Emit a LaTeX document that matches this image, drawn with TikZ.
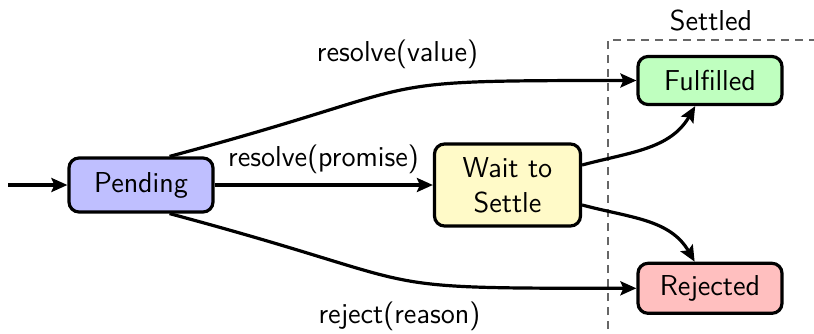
\documentclass[tikz,border=0pt]{standalone}
\usepackage{fontspec}
\usetikzlibrary{arrows.meta}
\definecolor{pendfill}{RGB}{191,191,255}
\definecolor{waitfill}{RGB}{255,250,200}
\definecolor{fulfill}{RGB}{191,255,191}
\definecolor{rejfill}{RGB}{255,191,191}
\tikzset{
  state/.style={draw=black, line width=1.6pt, rounded corners=5pt, minimum width=72pt,
    align=center, inner sep=3pt, font=\sffamily\fontsize{14.4pt}{17.5pt}\selectfont},
  lbl/.style={anchor=base, inner sep=0pt, font=\sffamily\fontsize{14.4pt}{17.5pt}\selectfont},
  conn/.style={line width=1.6pt, -{Stealth[length=8pt,width=7pt,inset=1.5pt]}},
  settledbox/.style={draw=black!60, line width=0.75pt, dash pattern=on 4pt off 3pt}
}
\begin{document}
\begin{tikzpicture}[x=0.5pt,y=0.5pt]
\useasboundingbox (0,0) rectangle (814,333);
\clip (0,0) rectangle (814,333);
% settled region
\draw[settledbox] (608,-10) |- (830,293);
\node[lbl] (settled) at (711,303) {Settled};
% states
\node[state, fill=pendfill, minimum height=27pt] (pending) at (141,148) {Pending};
\node[state, fill=waitfill, minimum width=73pt, minimum height=41pt] (wait) at (507.5,148) {Wait to\\Settle};
\node[state, fill=fulfill, minimum height=24pt] (fulfilled) at (710,252.5) {Fulfilled};
\node[state, fill=rejfill, minimum height=25pt] (rejected) at (710,44.7) {Rejected};
\coordinate (entry) at (8,148);
% connectors
\draw[conn] (entry) -- (pending.west);
\draw[conn] (pending.east) -- (wait.west);
\draw[conn] (pending.45) to[out=15,in=180,looseness=1.55] (fulfilled.west);
\draw[conn] (pending.-45) to[out=-15,in=180,looseness=1.55] (rejected.west);
\draw[conn] (wait) to[out=15,in=-120] (fulfilled);
\draw[conn] (wait) to[out=-15,in=120] (rejected);
% labels
\node[lbl] (lvalue) at (397.5,271.3) {resolve(value)};
\node[lbl] (lpromise) at (323.5,166.5) {resolve(promise)};
\node[lbl] (lreason) at (399.5,9.7) {reject(reason)};
\end{tikzpicture}
\end{document}
